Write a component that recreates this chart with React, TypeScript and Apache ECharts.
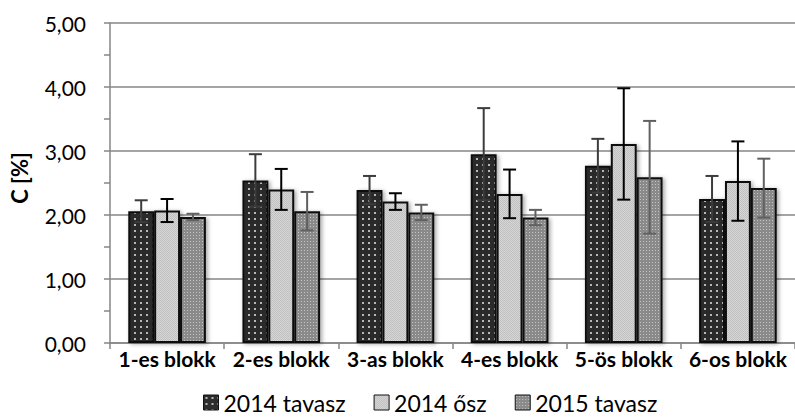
import React, { useEffect, useRef } from "react";
import * as echarts from "echarts";

const categories = ["1-es blokk", "2-es blokk", "3-as blokk", "4-es blokk", "5-ös blokk", "6-os blokk"];
const seriesNames = ["2014 tavasz", "2014 ősz", "2015 tavasz"];
const tavasz2014 = [2.06, 2.54, 2.39, 2.95, 2.77, 2.25];
const tavasz2014Err = [0.17, 0.41, 0.22, 0.72, 0.42, 0.36];
const osz2014 = [2.07, 2.4, 2.21, 2.33, 3.11, 2.53];
const osz2014Err = [0.18, 0.32, 0.13, 0.38, 0.87, 0.62];
const tavasz2015 = [1.97, 2.06, 2.04, 1.96, 2.59, 2.42];
const tavasz2015Err = [0.05, 0.3, 0.12, 0.12, 0.88, 0.46];
const yMin = 0;
const yMax = 5;
const yInterval = 1;

const values = [tavasz2014, osz2014, tavasz2015];
const errors = [tavasz2014Err, osz2014Err, tavasz2015Err];
const errColors = ["#3c3c3c", "#000000", "#606060"];
const CAT_GAP = 0.32;

function makePattern(kind: number) {
  const c = document.createElement("canvas");
  let size = 6;
  if (kind === 1) size = 2;
  if (kind === 2) size = 3;
  c.width = size;
  c.height = size;
  const ctx = c.getContext("2d")!;
  if (kind === 0) {
    ctx.fillStyle = "#2c2c2c";
    ctx.fillRect(0, 0, size, size);
    ctx.fillStyle = "#b8b8b8";
    ctx.fillRect(2, 2, 2, 2);
  } else if (kind === 1) {
    ctx.fillStyle = "#d6d6d6";
    ctx.fillRect(0, 0, size, size);
    ctx.fillStyle = "#c0c0c0";
    ctx.fillRect(0, 0, 1, 1);
    ctx.fillRect(1, 1, 1, 1);
  } else {
    ctx.fillStyle = "#8a8a8a";
    ctx.fillRect(0, 0, size, size);
    ctx.fillStyle = "#c4c4c4";
    ctx.fillRect(1, 1, 1, 1);
  }
  return { image: c.toDataURL(), repeat: "repeat", imageWidth: size, imageHeight: size } as any;
}

export default function App() {
  const ref = useRef<HTMLDivElement>(null);
  useEffect(() => {
    if (!ref.current) return;
    const chart = echarts.init(ref.current, undefined, { renderer: "svg" });
    const patterns = [makePattern(0), makePattern(1), makePattern(2)];
    const font = "Lato, 'Open Sans', sans-serif";

    const barSeries = seriesNames.map((name, k) => ({
      name,
      type: "bar",
      data: values[k],
      barGap: "0%",
      barCategoryGap: CAT_GAP * 100 + "%",
      itemStyle: {
        color: patterns[k],
        borderColor: "#111",
        borderWidth: 2,
        shadowBlur: 4,
        shadowColor: "rgba(0,0,0,0.35)",
        shadowOffsetX: 2,
        shadowOffsetY: 1,
      },
      z: 2,
    }));

    const errSeries = seriesNames.map((name, k) => ({
      name: name + " hiba",
      type: "custom",
      z: 5,
      data: values[k].map((v, i) => [i, v, errors[k][i]]),
      encode: { x: 0, y: 1 },
      renderItem: (params: any, api: any) => {
        const ci = api.value(0);
        const v = api.value(1);
        const e = api.value(2);
        const band = api.size([1, 0])[0];
        const bw = (band * (1 - CAT_GAP)) / 3;
        const cx = api.coord([ci, v])[0] + (k - 1) * bw;
        const top = api.coord([ci, v + e])[1];
        const bot = api.coord([ci, v - e])[1];
        const hw = 6.5;
        const style = { stroke: errColors[k], lineWidth: 2 };
        return {
          type: "group",
          children: [
            { type: "line", shape: { x1: cx, y1: top, x2: cx, y2: bot }, style },
            { type: "line", shape: { x1: cx - hw, y1: top, x2: cx + hw, y2: top }, style },
            { type: "line", shape: { x1: cx - hw, y1: bot, x2: cx + hw, y2: bot }, style },
          ],
        };
      },
    }));

    chart.setOption({
      animation: false,
      textStyle: { fontFamily: font },
      grid: { left: 110, top: 23, bottom: 76, width: 692 },
      legend: {
        data: seriesNames,
        left: 198,
        top: 386,
        icon: "rect",
        itemWidth: 15,
        itemHeight: 15,
        itemGap: 28,
        textStyle: { fontSize: 23, color: "#000", fontFamily: font },
        itemStyle: { borderColor: "#111", borderWidth: 1 },
      },
      xAxis: {
        type: "category",
        data: categories,
        axisLine: { lineStyle: { color: "#868686", width: 1.5 } },
        axisTick: { show: true, length: 6, lineStyle: { color: "#868686", width: 1.5 } },
        axisLabel: { interval: 0, fontSize: 21, fontWeight: "bold", color: "#000", margin: 5, fontFamily: font },
      },
      yAxis: {
        type: "value",
        min: yMin,
        max: yMax,
        interval: yInterval,
        name: "C [%]",
        nameLocation: "middle",
        nameRotate: 90,
        nameGap: 80,
        nameTextStyle: { fontSize: 22, fontWeight: "bold", color: "#000", fontFamily: font, padding: [0, 0, 0, 10] },
        axisLine: { show: true, lineStyle: { color: "#868686", width: 1.5 } },
        axisTick: { show: true, length: 6, lineStyle: { color: "#868686", width: 1.5 } },
        minorTick: { show: true, splitNumber: 2, length: 6, lineStyle: { color: "#868686", width: 1.5 } },
        splitLine: { show: true, lineStyle: { color: "#868686", width: 1.5 } },
        axisLabel: {
          fontSize: 21,
          color: "#000",
          margin: 24,
          fontFamily: font,
          formatter: (v: number) => v.toFixed(2).replace(".", ","),
        },
      },
      series: [...barSeries, ...errSeries],
    });
    return () => chart.dispose();
  }, []);
  return <div ref={ref} style={{ width: 795, height: 419, position: "absolute", left: 0, top: 0 }} />;
}
